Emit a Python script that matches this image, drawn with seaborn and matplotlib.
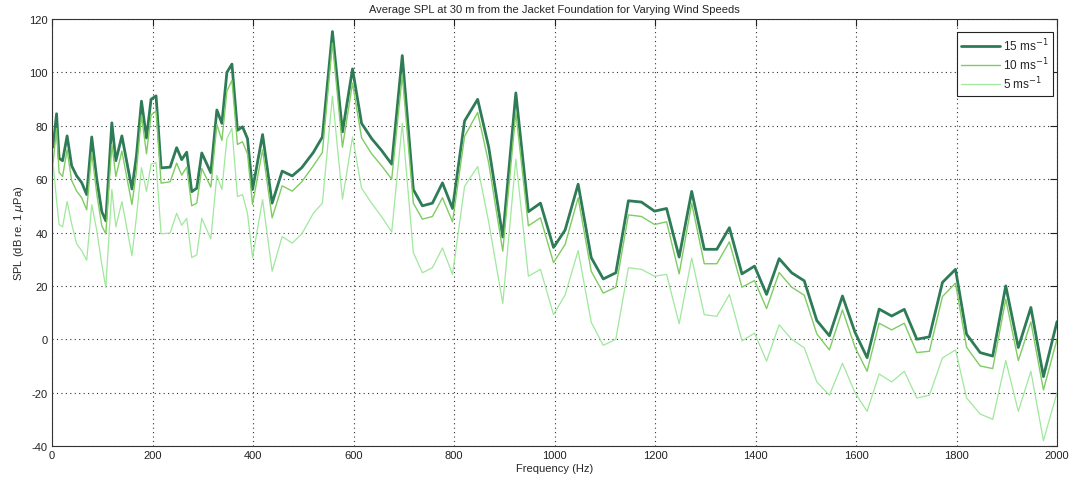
import matplotlib
matplotlib.use("Agg")
import matplotlib.pyplot as plt
import numpy as np
import pandas as pd
import seaborn as sns

# frequencies of the plotted vertices (Hz)
freq = [
    2, 9, 14, 21, 30, 39, 49, 59, 69, 79,
    89, 99, 107, 119, 127, 139, 149, 159, 168, 178,
    188, 197, 207, 217, 235, 248, 258, 268, 278, 288,
    298, 316, 328, 338, 348, 358, 369, 379, 389, 399,
    419, 438, 458, 478, 497, 520, 538, 558, 578, 598,
    616, 636, 656, 676, 697, 719, 737, 757, 777, 797,
    821, 847, 869, 897, 923, 948, 972, 998, 1021, 1047,
    1073, 1097, 1122, 1147, 1173, 1199, 1223, 1248, 1273, 1298,
    1323, 1348, 1373, 1398, 1422, 1447, 1472, 1497, 1522, 1547,
    1573, 1598, 1622, 1646, 1671, 1696, 1721, 1746, 1772, 1798,
    1820, 1847, 1872, 1898, 1923, 1948, 1973, 2000,
]

spl_15 = [
    72, 84.5, 67.8, 66.9, 76.2, 65, 61.2, 58.7, 54.2, 75.8,
    60, 47.8, 44.4, 81.1, 66.9, 76.2, 66.2, 56.3, 68.8, 89.2,
    75.4, 89.9, 91.2, 64.2, 64.5, 71.8, 67.3, 70.1, 55.3, 56.6,
    69.8, 62.4, 85.9, 80.9, 100, 103.1, 78.3, 79.6, 75.2, 56.1,
    76.7, 51, 63, 61.2, 64.3, 70, 75.8, 115.3, 77.7, 101.3,
    80.9, 75.2, 70.7, 65.6, 106.3, 56.1, 50, 51, 58.6, 49,
    81.8, 89.9, 72, 38.3, 92.3, 47.8, 51, 34.4, 40.9, 58.1,
    30.6, 22.6, 24.9, 51.9, 51.4, 48, 49, 30.8, 55.4, 33.7,
    33.7, 41.8, 24.5, 27.4, 16.8, 30.2, 24.9, 21.9, 7, 1.3,
    16.2, 2.6, -6.9, 11.3, 8.7, 11.2, 0, 0.9, 21.3, 26.2,
    1.9, -5, -6.3, 20, -3.1, 11.9, -14, 6.6,
]

spl_10 = [
    66, 79, 62.5, 61, 71, 59.5, 55.5, 53, 48.5, 70,
    54.5, 42.5, 39.5, 73, 61, 70.5, 60.5, 50.5, 63, 84,
    69.5, 84, 85.5, 58.5, 59, 66, 61.5, 64.5, 50, 51,
    64, 57, 80.5, 74.5, 93, 97, 73, 74, 69.5, 50.5,
    71, 45.5, 57.5, 55.5, 59, 65, 70, 111, 72, 96,
    75.5, 69.5, 65, 60, 99, 51, 45, 46, 53, 44,
    76, 85, 66, 33, 85, 42.5, 45.5, 28.7, 35.5, 53,
    25.5, 17.3, 19.5, 46.6, 46, 43, 44, 24.5, 51, 28.3,
    28.3, 36.5, 19.5, 22, 11.5, 25, 19.5, 16.5, 2, -4,
    11, -3, -12, 6, 3.5, 6, -5, -4.5, 16, 21,
    -3, -10, -11, 15, -8, 6.5, -19, 0,
]

spl_5 = [
    66, 52, 43, 42.1, 51.6, 43.3, 35.7, 33.2, 29.6, 50.4,
    40.8, 28.1, 19.4, 56.1, 42.1, 51.6, 41.5, 31.3, 45.9, 64.3,
    55.4, 65.6, 66.2, 39.5, 39.8, 47.2, 42.7, 45.3, 30.6, 31.6,
    45.3, 37.6, 61.4, 56.1, 75.2, 79, 53.5, 54.2, 47.2, 30.6,
    52.3, 25.5, 38.5, 36, 39.5, 47.2, 51, 91.1, 52.5, 75.8,
    56.6, 51, 45.9, 40.2, 80.9, 32.5, 24.9, 26.8, 34.2, 24.3,
    57.3, 64.7, 43.9, 13.4, 67.5, 23.6, 26.2, 9.2, 16.6, 33.2,
    6.4, -2.3, 0, 26.8, 26.2, 23.6, 24.3, 5.8, 30.4, 9.2,
    8.6, 16.8, -0.6, 2.3, -8.2, 5.4, 0, -3.2, -16, -21,
    -9, -20, -27, -13, -16, -12, -22, -21, -7, -4,
    -22, -28, -30, -8, -27, -12, -38, -20,
]

series = [
    ("15 ms$^{-1}$", spl_15, "#2e7b58", 2.0),
    ("10 ms$^{-1}$", spl_10, "#7fcc63", 1.0),
    ("5 ms$^{-1}$", spl_5, "#9fe89c", 0.9),
]

sns.set_style("white")
plt.rcParams["font.family"] = ["Liberation Sans", "DejaVu Sans"]
plt.rcParams["axes.unicode_minus"] = False

fig = plt.figure(figsize=(10.73, 4.81), dpi=100)
ax = fig.add_axes([0.0485, 0.0707, 0.9366, 0.8877])

for label, values, color, lw in series:
    df = pd.DataFrame({"Frequency": freq, "SPL": values})
    sns.lineplot(data=df, x="Frequency", y="SPL", ax=ax, color=color,
                 linewidth=lw, label=label, sort=False)

ax.set_xlim(0, 2000)
ax.set_ylim(-40, 120)
ax.set_xticks(np.arange(0, 2001, 200))
ax.set_yticks(np.arange(-40, 121, 20))
ax.grid(True, linestyle=(0, (1, 3)), color="#333333", linewidth=0.8)
ax.tick_params(direction="in", length=5, width=0.8, labelsize=8,
               top=True, right=True, colors="#222222", pad=3)
for spine in ax.spines.values():
    spine.set_color("#333333")
    spine.set_linewidth(0.8)

ax.set_title("Average SPL at 30 m from the Jacket Foundation for Varying Wind Speeds",
             fontsize=8, pad=5)
ax.set_xlabel("Frequency (Hz)", fontsize=8, labelpad=2)
ax.set_ylabel("SPL (dB re. 1 $\\mu$Pa)", fontsize=8, labelpad=2)

leg = ax.legend(loc="upper right", bbox_to_anchor=(0.9965, 0.97), fontsize=8.5,
                fancybox=False, framealpha=1, edgecolor="#222222",
                borderpad=0.4, handlelength=3.3, handletextpad=0.25,
                labelspacing=0.22, borderaxespad=0.0)
leg.get_frame().set_linewidth(0.8)

fig.savefig("out.png", dpi=100)
